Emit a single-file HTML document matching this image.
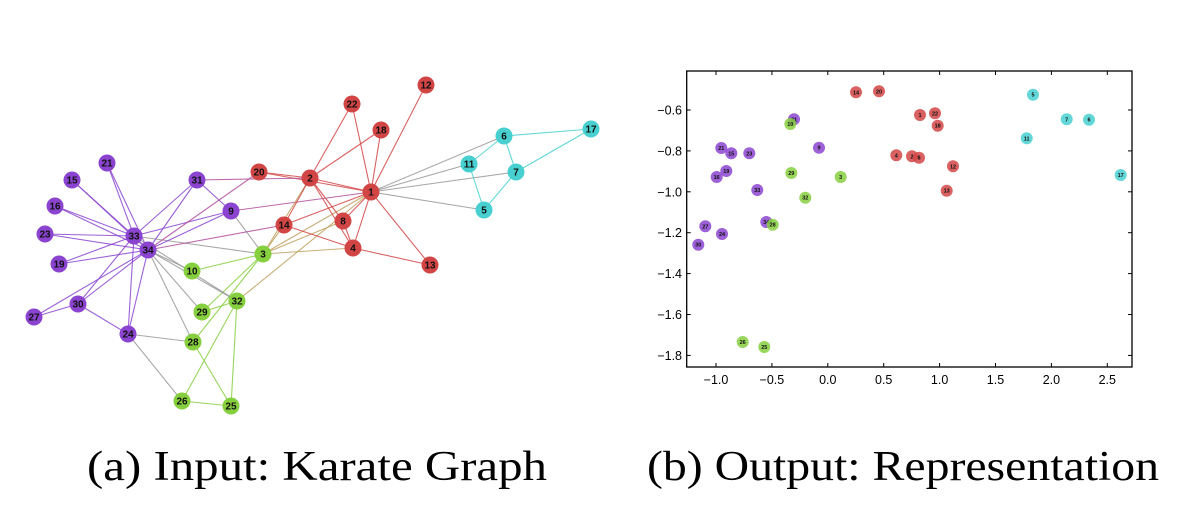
<!DOCTYPE html>
<html><head><meta charset="utf-8">
<style>
html,body{margin:0;padding:0;background:#fff;}
svg{display:block;}
</style></head>
<body>
<svg id="s" width="1196" height="517" xmlns="http://www.w3.org/2000/svg" font-family="Liberation Sans, DejaVu Sans, sans-serif">
<rect width="1196" height="517" fill="#fff"/>
<g id="edges"></g><g id="nodes"></g><g id="plot"></g>
<text x="87" y="480" font-family="Liberation Serif, serif" font-size="42" textLength="460" lengthAdjust="spacingAndGlyphs" fill="#000">(a) Input: Karate Graph</text>
<text x="647" y="480" font-family="Liberation Serif, serif" font-size="42" textLength="512" lengthAdjust="spacingAndGlyphs" fill="#000">(b) Output: Representation</text>
</svg>
<script>
var NS="http://www.w3.org/2000/svg";
function el(t,a,p,txt){var e=document.createElementNS(NS,t);for(var k in a)e.setAttribute(k,a[k]);if(txt!==undefined)e.textContent=txt;p.appendChild(e);return e;}
var C={r:"#d24545",p:"#8b44d0",g:"#86cf3f",c:"#48d0d0"};
var pos={1:[371,192,'r'],2:[310,178,'r'],3:[263,254,'g'],4:[353,248,'r'],5:[484,210,'c'],6:[504,136,'c'],7:[516,172,'c'],8:[343,221,'r'],9:[231,211,'p'],10:[192,271,'g'],11:[469,164,'c'],12:[426,85,'r'],13:[430,265,'r'],14:[284,225,'r'],15:[72,180,'p'],16:[55,206,'p'],17:[591,129,'c'],18:[381,130,'r'],19:[59,264,'p'],20:[259,172,'r'],21:[107,163,'p'],22:[352,104,'r'],23:[45,234,'p'],24:[128,334,'p'],25:[231,406,'g'],26:[182,401,'g'],27:[34,317,'p'],28:[193,342,'g'],29:[202,312,'g'],30:[78,304,'p'],31:[197,180,'p'],32:[237,301,'g'],33:[134,236,'p'],34:[148,250,'p']};
var E="1-2 1-3 1-4 1-5 1-6 1-7 1-8 1-9 1-11 1-12 1-13 1-14 1-18 1-20 1-22 1-32 2-3 2-4 2-8 2-14 2-18 2-20 2-22 2-31 3-4 3-8 3-9 3-10 3-14 3-28 3-29 3-33 4-8 4-13 4-14 5-7 5-11 6-7 6-11 6-17 7-17 9-31 9-33 9-34 10-34 14-34 15-33 15-34 16-33 16-34 19-33 19-34 20-34 21-33 21-34 23-33 23-34 24-26 24-28 24-30 24-33 24-34 25-26 25-28 25-32 26-32 27-30 27-34 28-34 29-32 29-34 30-33 30-34 31-33 31-34 32-33 32-34 33-34".split(" ");
var eg=document.getElementById("edges"),ng=document.getElementById("nodes");
E.forEach(function(s){var ab=s.split("-"),a=pos[ab[0]],b=pos[ab[1]];var col;
if(a[2]==b[2])col=C[a[2]];else{var k=[a[2],b[2]].sort().join("");col=k=="gr"?"#c0a060":(k=="pr"?"#b04c9c":"#999");}
el("line",{x1:a[0],y1:a[1],x2:b[0],y2:b[1],stroke:col,"stroke-width":1.1,"stroke-opacity":0.85},eg);});
for(var k in pos){var p=pos[k];el("circle",{cx:p[0],cy:p[1],r:8.5,fill:C[p[2]]},ng);
el("text",{x:p[0],y:p[1]+3.5,"text-anchor":"middle","font-size":10,"font-weight":"bold",fill:"#111"},ng,k);}
// scatter
var pg=document.getElementById("plot");
var L=686.7,R=1132,T=71,B=367;
el("rect",{x:L,y:T,width:R-L,height:B-T,fill:"none",stroke:"#000","stroke-width":1.3},pg);
function X(v){return 827.8+v*111.8;}function Y(v){return 110+(-0.6-v)/0.2*40.9;}
[-1,-0.5,0,0.5,1,1.5,2,2.5].forEach(function(v){var x=X(v);
el("line",{x1:x,y1:B,x2:x,y2:B-4,stroke:"#000"},pg);el("line",{x1:x,y1:T,x2:x,y2:T+4,stroke:"#000"},pg);
el("text",{x:x,y:384,"text-anchor":"middle","font-size":12.5,fill:"#000"},pg,(v<0?"\u2212":"")+Math.abs(v).toFixed(1));});
[-0.6,-0.8,-1.0,-1.2,-1.4,-1.6,-1.8].forEach(function(v){var y=Y(v);
el("line",{x1:L,y1:y,x2:L+4,y2:y,stroke:"#000"},pg);el("line",{x1:R,y1:y,x2:R-4,y2:y,stroke:"#000"},pg);
el("text",{x:682,y:y+4.5,"text-anchor":"end","font-size":12.5,fill:"#000"},pg,"\u2212"+Math.abs(v).toFixed(1));});
var pts=[[14,856,92.3,'r'],[20,879,91.3,'r'],[1,920,115,'r'],[22,935,113.3,'r'],[18,937.7,125.7,'r'],[4,896.3,155.3,'r'],[2,912,156.3,'r'],[8,919,157.7,'r'],[12,953,166.3,'r'],[13,946.7,190.7,'r'],[5,1033,94.7,'c'],[7,1066.7,119.3,'c'],[6,1089,119.7,'c'],[11,1026.7,138.3,'c'],[17,1120.7,175,'c'],[31,794,119.3,'p'],[10,790.3,124,'g'],[21,721.3,148,'p'],[15,731.3,153.3,'p'],[23,749.3,153.3,'p'],[9,819,147.7,'p'],[19,726.3,171,'p'],[16,716.7,177,'p'],[29,791.3,173,'g'],[3,840.7,177,'g'],[33,757.3,190,'p'],[32,805.3,197.7,'g'],[34,766.3,222,'p'],[28,772.7,224.7,'g'],[27,705.3,226.3,'p'],[24,722,234,'p'],[30,698.3,244.7,'p'],[26,742.7,342,'g'],[25,764.3,347,'g']];
pts.forEach(function(p){el("circle",{cx:p[1],cy:p[2],r:6,fill:C[p[3]],"fill-opacity":0.85},pg);
el("text",{x:p[1],y:p[2]+2,"text-anchor":"middle","font-size":5.5,"font-weight":"bold",fill:"#111"},pg,p[0]);});
</script>
</body></html>
